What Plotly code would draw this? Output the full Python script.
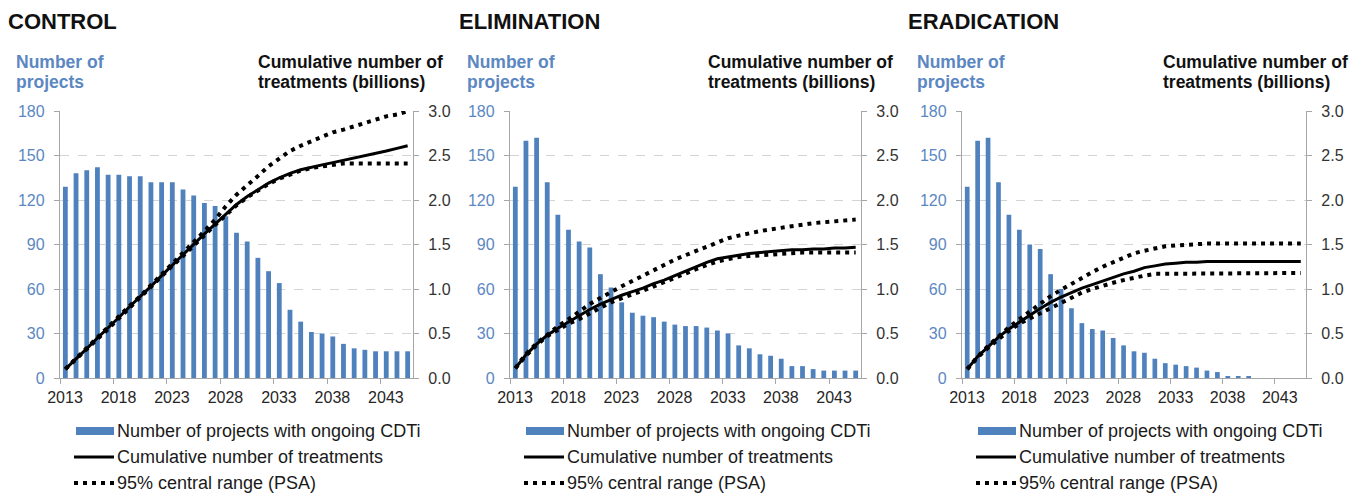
import plotly.graph_objects as go

# ---------------- data ----------------
years = list(range(2013, 2046))
tick_years = [2013, 2018, 2023, 2028, 2033, 2038, 2043]
tick_labels = ["2013", "2018", "2023", "2028", "2033", "2038", "2043"]
left_ticks = [0, 30, 60, 90, 120, 150, 180]
right_ticks = [0.0, 0.5, 1.0, 1.5, 2.0, 2.5, 3.0]

panel_titles = ["CONTROL", "ELIMINATION", "ERADICATION"]
left_title = ["Number of", "projects"]
right_title = ["Cumulative number of", "treatments (billions)"]
legend_labels = ["Number of projects with ongoing CDTi",
                 "Cumulative number of treatments",
                 "95% central range (PSA)"]

control_projects = [129, 138, 140, 142, 137, 137, 136, 136, 132, 132,
                    132, 127, 123, 118, 116, 109, 98, 92, 81, 72,
                    64, 46, 38, 31, 30, 28, 23, 20, 19, 18,
                    18, 18, 18]
control_cum = [0.10, 0.21, 0.33, 0.45, 0.56, 0.68, 0.80, 0.91, 1.03, 1.15,
               1.27, 1.38, 1.50, 1.62, 1.73, 1.84, 1.95, 2.04, 2.12, 2.19,
               2.25, 2.30, 2.34, 2.37, 2.395, 2.42, 2.445, 2.47, 2.495, 2.52,
               2.55, 2.58, 2.61]
control_hi = [0.10, 0.22, 0.34, 0.46, 0.57, 0.69, 0.81, 0.92, 1.04, 1.16,
              1.28, 1.40, 1.52, 1.65, 1.78, 1.93, 2.06, 2.16, 2.27, 2.38,
              2.47, 2.55, 2.61, 2.66, 2.72, 2.76, 2.79, 2.83, 2.87, 2.91,
              2.94, 2.96, 3.00]
control_lo = [0.10, 0.21, 0.32, 0.44, 0.55, 0.67, 0.79, 0.90, 1.02, 1.14,
              1.26, 1.37, 1.49, 1.61, 1.72, 1.83, 1.94, 2.03, 2.11, 2.18,
              2.24, 2.29, 2.33, 2.36, 2.38, 2.40, 2.41, 2.41, 2.41, 2.41,
              2.41, 2.41, 2.41]

elim_projects = [129, 160, 162, 132, 110, 100, 92, 88, 70, 61,
                 51, 44, 42, 41, 38, 36, 35, 35, 34, 32,
                 30, 22, 20, 16, 15, 13, 8, 8, 6, 5,
                 5, 5, 5]
elim_cum = [0.11, 0.26, 0.38, 0.48, 0.56, 0.63, 0.70, 0.77, 0.83, 0.88,
            0.93, 0.97, 1.01, 1.06, 1.10, 1.15, 1.20, 1.25, 1.30, 1.34,
            1.36, 1.38, 1.40, 1.41, 1.42, 1.43, 1.44, 1.44, 1.45, 1.45,
            1.46, 1.46, 1.47]
elim_hi = [0.11, 0.27, 0.39, 0.49, 0.58, 0.66, 0.75, 0.83, 0.90, 0.97,
           1.03, 1.09, 1.15, 1.21, 1.28, 1.33, 1.38, 1.43, 1.48, 1.53,
           1.57, 1.60, 1.63, 1.65, 1.67, 1.69, 1.71, 1.72, 1.74, 1.75,
           1.76, 1.77, 1.78]
elim_lo = [0.11, 0.25, 0.37, 0.47, 0.54, 0.61, 0.66, 0.73, 0.79, 0.85,
           0.90, 0.94, 0.98, 1.03, 1.07, 1.12, 1.17, 1.22, 1.27, 1.31,
           1.34, 1.36, 1.37, 1.38, 1.39, 1.40, 1.41, 1.41, 1.41, 1.41,
           1.41, 1.41, 1.41]

erad_projects = [129, 160, 162, 132, 110, 100, 90, 87, 70, 60,
                 47, 37, 33, 32, 27, 22, 18, 17, 13, 10,
                 9, 8, 7, 5, 4, 1, 1, 1, 0, 0,
                 0, 0, 0]
erad_cum = [0.10, 0.24, 0.35, 0.46, 0.55, 0.63, 0.71, 0.78, 0.85, 0.91,
            0.96, 1.01, 1.05, 1.09, 1.13, 1.17, 1.20, 1.24, 1.26, 1.28,
            1.29, 1.30, 1.30, 1.31, 1.31, 1.31, 1.31, 1.31, 1.31, 1.31,
            1.31, 1.31, 1.31]
erad_hi = [0.10, 0.24, 0.36, 0.47, 0.57, 0.66, 0.75, 0.84, 0.92, 0.99,
           1.06, 1.13, 1.19, 1.25, 1.30, 1.35, 1.40, 1.43, 1.46, 1.48,
           1.49, 1.50, 1.50, 1.51, 1.51, 1.51, 1.51, 1.51, 1.51, 1.51,
           1.51, 1.51, 1.51]
erad_lo = [0.10, 0.23, 0.34, 0.44, 0.53, 0.61, 0.67, 0.73, 0.79, 0.84,
           0.90, 0.96, 1.00, 1.04, 1.07, 1.10, 1.13, 1.15, 1.17, 1.17,
           1.18, 1.18, 1.18, 1.18, 1.18, 1.18, 1.18, 1.18, 1.18, 1.18,
           1.18, 1.18, 1.18]

panels = [
    (control_projects, control_cum, control_hi, control_lo),
    (elim_projects, elim_cum, elim_hi, elim_lo),
    (erad_projects, erad_cum, erad_hi, erad_lo),
]

# ---------------- layout geometry (page pixels) ----------------
W, H = 1367, 496
FONT = "Liberation Sans, Arial, sans-serif"
BLUE = "#4F81BD"
BLUE_TXT = "#5B87C2"
GRAY = "#A6A6A6"

panel_px = [(60, 413), (510, 861), (962, 1306)]
plot_top, plot_bot = 111, 378
title_x = [6, 457, 906]
ltitle_x = [14, 465, 915]
rtitle_x = [256, 706, 1161]


def px(x):
    return x / W


def py(y):
    return 1 - y / H


fig = go.Figure()
annotations = []
shapes = []

for i, (proj, cum, hi, lo) in enumerate(panels):
    n = i + 1
    xa = "x" if n == 1 else f"x{n}"
    ya = "y" if n == 1 else f"y{n}"
    yr = f"y{n + 3}"

    fig.add_trace(go.Bar(x=years, y=proj, xaxis=xa, yaxis=ya,
                         marker=dict(color=BLUE, line=dict(width=0)),
                         width=0.45, showlegend=False))
    fig.add_trace(go.Scatter(x=years, y=cum, xaxis=xa, yaxis=yr, mode="lines",
                             line=dict(color="black", width=3),
                             showlegend=False))
    for band in (hi, lo):
        fig.add_trace(go.Scatter(x=years, y=band, xaxis=xa, yaxis=yr,
                                 mode="lines",
                                 line=dict(color="black", width=4,
                                           dash="4px,5px"),
                                 showlegend=False))

    x0, x1 = panel_px[i]
    dom = [px(x0), px(x1)]
    slot = (x1 - x0) / len(years)
    xkey = "xaxis" if n == 1 else f"xaxis{n}"
    ykey = "yaxis" if n == 1 else f"yaxis{n}"
    fig.layout[xkey] = dict(
        domain=dom, anchor=ya, range=[years[0] - 0.5, years[-1] + 0.5],
        tickvals=[t - 0.5 for t in tick_years], ticktext=tick_labels,
        ticklabelshift=int(round(slot / 2)),
        ticks="outside", ticklen=5, tickcolor=GRAY, tickwidth=1,
        showline=True, linecolor=GRAY, linewidth=1.3,
        showgrid=False, zeroline=False, automargin=False,
        tickfont=dict(family=FONT, size=16, color="#262626"),
        fixedrange=True,
    )
    fig.layout[ykey] = dict(
        domain=[py(plot_bot), py(plot_top)], anchor=xa, range=[0, 180],
        tickvals=left_ticks, ticks="outside", ticklen=5, tickcolor=GRAY,
        ticklabelstandoff=6, automargin=False,
        showline=True, linecolor=GRAY, linewidth=1.3,
        showgrid=True, gridcolor="#D4D4D4", griddash="dash", gridwidth=1,
        zeroline=False,
        tickfont=dict(family=FONT, size=16, color=BLUE_TXT),
        fixedrange=True,
    )
    fig.layout[f"yaxis{n + 3}"] = dict(
        overlaying=ya, anchor=xa, side="right", range=[0, 3],
        tickvals=right_ticks, tickformat=".1f", automargin=False,
        ticks="outside", ticklen=5, tickcolor=GRAY, ticklabelstandoff=6,
        showline=True, linecolor=GRAY, linewidth=1.3,
        showgrid=False, zeroline=False,
        tickfont=dict(family=FONT, size=16, color="#333333"),
        fixedrange=True,
    )

    # panel title
    annotations.append(dict(text=panel_titles[i], xref="paper", yref="paper",
                            x=px(title_x[i]), y=py(22), xanchor="left",
                            yanchor="middle", showarrow=False,
                            font=dict(family=FONT, size=22, color="#111111",
                                      weight="bold")))
    # axis titles
    for k, line in enumerate(left_title):
        annotations.append(dict(text=line, xref="paper", yref="paper",
                                x=px(ltitle_x[i]), y=py(62 + 20 * k),
                                xanchor="left", yanchor="middle",
                                showarrow=False,
                                font=dict(family=FONT, size=17.5,
                                          color=BLUE_TXT, weight="bold")))
    for k, line in enumerate(right_title):
        annotations.append(dict(text=line, xref="paper", yref="paper",
                                x=px(rtitle_x[i]), y=py(62 + 20 * k),
                                xanchor="left", yanchor="middle",
                                showarrow=False,
                                font=dict(family=FONT, size=17.5,
                                          color="#111111", weight="bold")))
    # legend
    kx0, kx1 = x0 + 14, x0 + 54
    rows = [431, 457, 483]
    shapes.append(dict(type="rect", xref="paper", yref="paper",
                       x0=px(kx0 + 2), x1=px(kx1), y0=py(rows[0] + 4),
                       y1=py(rows[0] - 4), fillcolor=BLUE,
                       line=dict(width=0)))
    shapes.append(dict(type="line", xref="paper", yref="paper",
                       x0=px(kx0), x1=px(kx1), y0=py(rows[1]), y1=py(rows[1]),
                       line=dict(color="black", width=3)))
    shapes.append(dict(type="line", xref="paper", yref="paper",
                       x0=px(kx0), x1=px(kx1), y0=py(rows[2]), y1=py(rows[2]),
                       line=dict(color="black", width=4, dash="4px,5px")))
    for k, lab in enumerate(legend_labels):
        annotations.append(dict(text=lab, xref="paper", yref="paper",
                                x=px(kx1 + 1), y=py(rows[k]),
                                xanchor="left", yanchor="middle",
                                showarrow=False,
                                font=dict(family=FONT, size=18,
                                          color="#1a1a1a")))

fig.update_layout(
    width=W, height=H, autosize=False,
    margin=dict(l=0, r=0, t=0, b=0, autoexpand=False),
    paper_bgcolor="white", plot_bgcolor="white",
    showlegend=False, barmode="overlay",
    annotations=annotations, shapes=shapes,
    font=dict(family=FONT),
)

fig.write_html(
    "out.html", config={"displayModeBar": False},
    post_script="document.body.style.margin='0';"
                "document.body.style.overflow='hidden';",
)
